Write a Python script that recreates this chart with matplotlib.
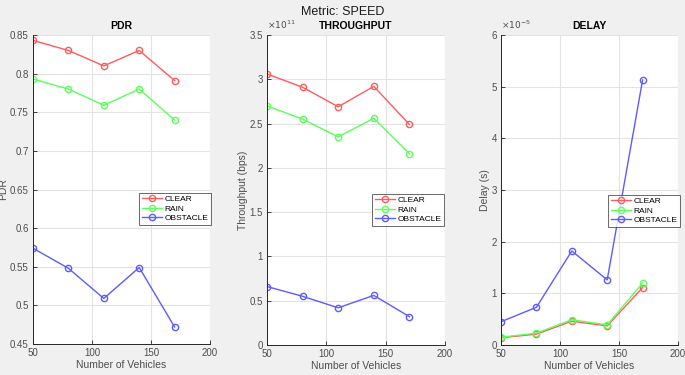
import matplotlib.pyplot as plt

plt.rcParams['font.family'] = ['Liberation Sans', 'DejaVu Sans']

vehicles = [50, 80, 110, 140, 170]
scenarios = ['CLEAR', 'RAIN', 'OBSTACLE']
colors = ['#ff5c5c', '#5cff5c', '#5c5cff']

pdr_clear = [0.843, 0.830, 0.810, 0.830, 0.791]
pdr_rain = [0.793, 0.780, 0.759, 0.780, 0.740]
pdr_obstacle = [0.574, 0.548, 0.509, 0.549, 0.472]

thr_clear = [3.06e11, 2.91e11, 2.69e11, 2.92e11, 2.49e11]
thr_rain = [2.70e11, 2.55e11, 2.35e11, 2.56e11, 2.16e11]
thr_obstacle = [0.66e11, 0.55e11, 0.42e11, 0.56e11, 0.32e11]

delay_clear = [0.14e-5, 0.21e-5, 0.46e-5, 0.37e-5, 1.11e-5]
delay_rain = [0.15e-5, 0.23e-5, 0.49e-5, 0.39e-5, 1.20e-5]
delay_obstacle = [0.45e-5, 0.73e-5, 1.82e-5, 1.26e-5, 5.13e-5]


def draw_panel(ax, series, title, ylabel, ylim, yticks, scale, exp_text, legend_box):
    for vals, name, c in zip(series, scenarios, colors):
        ax.plot(vehicles, vals, '-o', color=c, mfc='none', mec=c, ms=4.5,
                lw=1, label=name)
    ax.set_xlim(50, 200)
    ax.set_xticks([50, 100, 150, 200])
    ax.set_ylim(*ylim)
    ax.set_yticks(yticks)
    ax.set_yticklabels(['%g' % round(t / scale, 4) for t in yticks])
    ax.grid(True, color='#e3e3e3', lw=0.8)
    ax.set_axisbelow(True)
    for s in ['top', 'right']:
        ax.spines[s].set_visible(False)
    for s in ['left', 'bottom']:
        ax.spines[s].set_color('#262626')
        ax.spines[s].set_linewidth(0.7)
    ax.tick_params(direction='in', length=3, width=0.6, labelsize=7,
                   colors='#262626', labelcolor='#4d4d4d', pad=3)
    ax.set_title(title, fontsize=7.5, fontweight='bold', pad=4)
    ax.set_xlabel('Number of Vehicles', fontsize=7.5, color='#4d4d4d', labelpad=1)
    ax.set_ylabel(ylabel, fontsize=7.5, color='#4d4d4d', labelpad=1)
    if exp_text:
        ax.text(0.0, 1.012, exp_text, transform=ax.transAxes, fontsize=6.5,
                color='#4d4d4d', ha='left', va='bottom')
    leg = ax.legend(loc='upper left', bbox_to_anchor=legend_box, fontsize=6,
                    frameon=True, fancybox=False, borderpad=0.3,
                    labelspacing=0.2, handlelength=2.5, handletextpad=0.3,
                    borderaxespad=0)
    leg.get_frame().set_edgecolor('#262626')
    leg.get_frame().set_linewidth(0.6)


fig = plt.figure(figsize=(6.85, 3.75), dpi=100, facecolor='#f0f0f0')
W, H = 685, 375

def axes_px(x0, x1, y0, y1):
    return fig.add_axes([x0 / W, 1 - y1 / H, (x1 - x0) / W, (y1 - y0) / H])

ax1 = axes_px(33, 210, 35, 344)
ax2 = axes_px(267, 445, 35, 345)
ax3 = axes_px(501, 678, 35, 345)

draw_panel(ax1, [pdr_clear, pdr_rain, pdr_obstacle], 'PDR', 'PDR',
           (0.45, 0.85), [0.45, 0.5, 0.55, 0.6, 0.65, 0.7, 0.75, 0.8, 0.85],
           1, None, ((139 - 33) / 177, (344 - 193) / 309))

draw_panel(ax2, [thr_clear, thr_rain, thr_obstacle], 'THROUGHPUT',
           'Throughput (bps)', (0, 3.5e11),
           [0, 0.5e11, 1e11, 1.5e11, 2e11, 2.5e11, 3e11, 3.5e11],
           1e11, r'$\times10^{11}$', ((372 - 267) / 178, (345 - 194) / 310))

draw_panel(ax3, [delay_clear, delay_rain, delay_obstacle], 'DELAY',
           'Delay (s)', (0, 6e-5),
           [0, 1e-5, 2e-5, 3e-5, 4e-5, 5e-5, 6e-5],
           1e-5, r'$\times10^{-5}$', ((608 - 501) / 177, (345 - 195) / 310))

fig.suptitle('Metric: SPEED', fontsize=9, y=0.985, color='#1a1a1a')

fig.savefig('out.png', dpi=100, facecolor=fig.get_facecolor())
